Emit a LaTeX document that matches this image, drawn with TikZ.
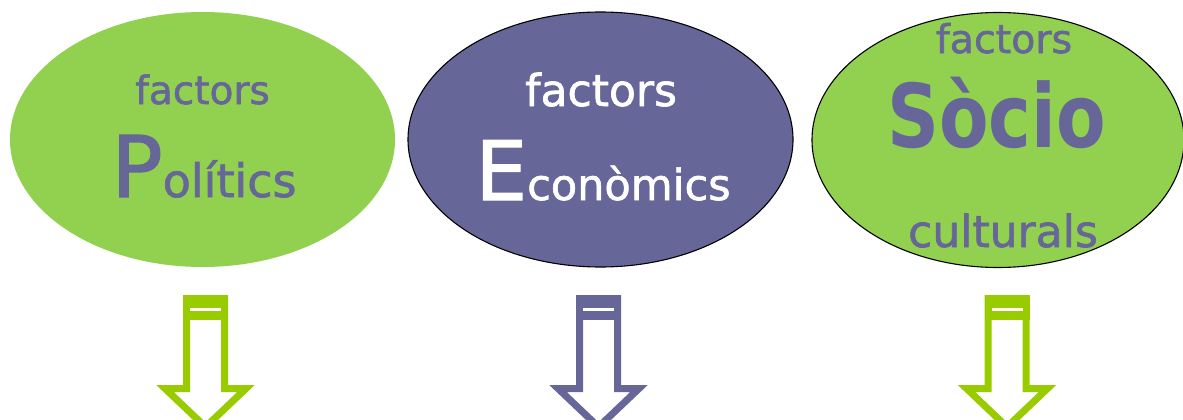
\documentclass[tikz,border=0pt]{standalone}
\usepackage{fontspec}
\setmainfont{DejaVu Sans}
\newfontfamily\semib{DejaVu Sans}[FakeBold=1.5]
\usetikzlibrary{shapes.geometric}
\definecolor{ellgreen}{HTML}{92D050}
\definecolor{purp}{HTML}{666699}
\definecolor{arrgreen}{HTML}{99CC00}
\tikzset{
  oval/.style={ellipse, inner sep=0pt, minimum width=385pt, minimum height=255pt},
  lbl/.style={anchor=base, inner sep=0pt},
  striparrow/.pic={
    \draw[#1, line width=7pt, fill=white, line join=miter]
      (-19,298.5) -- (19,298.5) -- (19,388.5) -- (40.5,388.5) -- (0,427)
      -- (-40.5,388.5) -- (-19,388.5) -- cycle;
    \fill[#1] (-22.5,295) rectangle (22.5,320);
    \fill[white] (-15.5,308) rectangle (15.5,311);
  }
}
\begin{document}
\begin{tikzpicture}[x=1pt,y=-1pt]
\useasboundingbox (0,0) rectangle (1183,420);
\clip (0,0) rectangle (1183,420);
\fill[white] (0,0) rectangle (1183,420);

\node[oval, fill=ellgreen] (e1) at (202.5,139.5) {};
\node[oval, fill=purp, draw=black, line width=1.1pt] (e2) at (600.5,139.5) {};
\node[oval, fill=ellgreen, draw=black, line width=1.1pt, minimum width=372pt] (e3) at (998,140) {};

\node[lbl, text=purp, font=\semib\fontsize{39}{39}\selectfont] (f1) at (202.5,104) {factors};
\node[lbl, text=purp, font=\semib] (p1) at (204,197) {{\fontsize{85}{85}\selectfont P}{\fontsize{46}{46}\selectfont olítics}};

\node[lbl, text=white, font=\semib\fontsize{44}{44}\selectfont] (f2) at (601,106) {factors};
\node[lbl, text=white, font=\semib] (p2) at (603,200) {{\fontsize{82}{82}\selectfont E}{\fontsize{43}{43}\selectfont conòmics}};

\node[lbl, text=purp, font=\semib\fontsize{39.5}{39.5}\selectfont] (f3) at (1004,53) {factors};
\node[lbl, text=purp] (p3) at (996.5,147) {\scalebox{0.82}[1]{\bfseries\fontsize{88}{88}\selectfont Sòcio}};
\node[lbl, text=purp, font=\semib\fontsize{44}{44}\selectfont] (c3) at (1003,247) {culturals};

\pic (a1) at (205.5,0) {striparrow=arrgreen};
\pic (a2) at (598.5,0) {striparrow=purp};
\pic (a3) at (1007,0) {striparrow=arrgreen};
\end{tikzpicture}
\end{document}
